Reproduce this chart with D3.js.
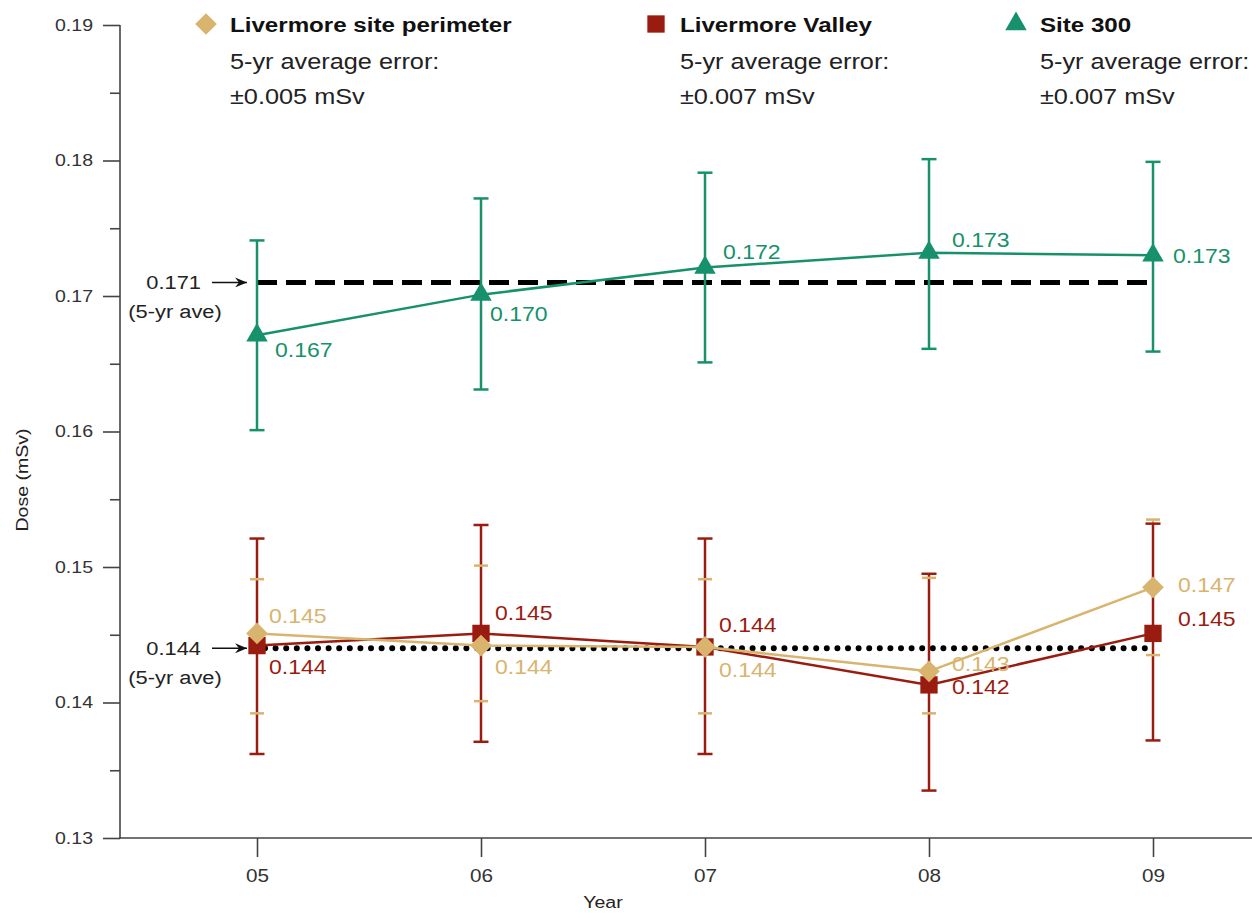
<!DOCTYPE html>
<html>
<head>
<meta charset="utf-8">
<script src="https://cdn.jsdelivr.net/npm/d3@7"></script>
<style>
  body { margin: 0; background: #fff; }
  text { font-family: "Liberation Sans", Arial, sans-serif; }
</style>
</head>
<body>
<div id="chart"></div>
<script>
// data
var years = ["05", "06", "07", "08", "09"];

var perimeterDose = [0.1451, 0.1442, 0.1441, 0.1423, 0.1485];
var perimeterLow  = [0.1392, 0.1401, 0.1392, 0.1392, 0.1435];
var perimeterHigh = [0.1491, 0.1501, 0.1491, 0.1492, 0.1535];
var perimeterLabels = ["0.145", "0.144", "0.144", "0.143", "0.147"];

var valleyDose = [0.1442, 0.1451, 0.1441, 0.1413, 0.1451];
var valleyLow  = [0.1362, 0.1371, 0.1362, 0.1335, 0.1372];
var valleyHigh = [0.1521, 0.1531, 0.1521, 0.1495, 0.1532];
var valleyLabels = ["0.144", "0.145", "0.144", "0.142", "0.145"];

var site300Dose = [0.1671, 0.1701, 0.1721, 0.1732, 0.1730];
var site300Low  = [0.1601, 0.1631, 0.1651, 0.1661, 0.1659];
var site300High = [0.1741, 0.1772, 0.1791, 0.1801, 0.1799];
var site300Labels = ["0.167", "0.170", "0.172", "0.173", "0.173"];

var site300Ave = 0.171;
var livermoreAve = 0.144;

var legendNames = ["Livermore site perimeter", "Livermore Valley", "Site 300"];
var legendErrors = ["\u00b10.005 mSv", "\u00b10.007 mSv", "\u00b10.007 mSv"];

var majorTicks = [0.13, 0.14, 0.15, 0.16, 0.17, 0.18, 0.19];
var minorTicks = [0.135, 0.145, 0.155, 0.165, 0.175, 0.185];

// layout
var W = 1252, H = 913;
var SX = 1.15; // the original art is stretched a bit horizontally
var tan = "#d8b46e", red = "#9a1c10", green = "#16916b";

var svg = d3.select("#chart").append("svg")
    .attr("width", W)
    .attr("height", H);

var x = d3.scalePoint()
    .domain(years)
    .range([257, 1153]);
var y = d3.scaleLinear()
    .domain([0.13, 0.19])
    .range([838, 25]);

function stext(g, px, py, str, size, fill, anchor, weight) {
    return g.append("text")
        .attr("transform", "translate(" + px + "," + py + ") scale(" + SX + ",1)")
        .attr("dy", "0.35em")
        .attr("text-anchor", anchor || "start")
        .style("font-size", size + "px")
        .style("font-weight", weight || "normal")
        .attr("fill", fill)
        .text(str);
}

// y axis
var yAxis = svg.append("g")
    .attr("transform", "translate(120,0)")
    .call(d3.axisLeft(y).tickValues(majorTicks).tickSize(17).tickPadding(9).tickFormat(d3.format(".2f")));
yAxis.select(".domain").remove();
yAxis.selectAll("line").attr("stroke", "#444").attr("stroke-width", 1.6);
yAxis.selectAll("text")
    .attr("x", 0)
    .attr("transform", "translate(-27,0) scale(" + SX + ",1)")
    .attr("fill", "#333")
    .style("font-size", "17px")
    .style("font-family", "Liberation Sans, Arial, sans-serif");

var yMinor = svg.append("g")
    .attr("transform", "translate(120,0)")
    .call(d3.axisLeft(y).tickValues(minorTicks).tickSize(10).tickFormat(""));
yMinor.select(".domain").remove();
yMinor.selectAll("line").attr("stroke", "#444").attr("stroke-width", 1.6);

svg.append("line")
    .attr("x1", 120).attr("x2", 120)
    .attr("y1", y(0.19)).attr("y2", y(0.13) + 0.8)
    .attr("stroke", "#444").attr("stroke-width", 1.6);

// x axis
var xAxis = svg.append("g")
    .attr("transform", "translate(0," + y(0.13) + ")")
    .call(d3.axisBottom(x).tickSize(19).tickPadding(9));
xAxis.select(".domain").remove();
xAxis.selectAll("line").attr("stroke", "#444").attr("stroke-width", 1.6);
xAxis.selectAll("text")
    .attr("y", 0)
    .attr("dy", "0.35em")
    .attr("transform", "translate(0,38) scale(" + SX + ",1)")
    .attr("fill", "#333")
    .style("font-size", "18px")
    .style("font-family", "Liberation Sans, Arial, sans-serif");

svg.append("line")
    .attr("x1", 119).attr("x2", W)
    .attr("y1", y(0.13)).attr("y2", y(0.13))
    .attr("stroke", "#444").attr("stroke-width", 1.6);

stext(svg, 603, 902, "Year", 17, "#222", "middle");
svg.append("text")
    .attr("transform", "translate(22,480) rotate(-90) scale(" + SX + ",1)")
    .attr("dy", "0.35em")
    .attr("text-anchor", "middle")
    .style("font-size", "17px")
    .attr("fill", "#222")
    .text("Dose (mSv)");

// 5-yr average reference lines
svg.append("defs").append("marker")
    .attr("id", "arrow")
    .attr("viewBox", "0 0 12 10")
    .attr("refX", 12).attr("refY", 5)
    .attr("markerWidth", 12).attr("markerHeight", 10)
    .attr("markerUnits", "userSpaceOnUse")
    .attr("orient", "auto")
    .append("path")
    .attr("d", "M0,0 L12,5 L0,10 L4,5 Z")
    .attr("fill", "#111");

svg.append("line")
    .attr("x1", x("05")).attr("x2", x("09"))
    .attr("y1", y(site300Ave)).attr("y2", y(site300Ave))
    .attr("stroke", "#000").attr("stroke-width", 5)
    .attr("stroke-dasharray", "20,9");

svg.append("line")
    .attr("x1", x("05") + 8).attr("x2", x("09"))
    .attr("y1", y(livermoreAve)).attr("y2", y(livermoreAve))
    .attr("stroke", "#000").attr("stroke-width", 6)
    .attr("stroke-linecap", "round")
    .attr("stroke-dasharray", "0,10.6");

[site300Ave, livermoreAve].forEach(function(v) {
    svg.append("line")
        .attr("x1", 212).attr("x2", x("05") - 10)
        .attr("y1", y(v)).attr("y2", y(v))
        .attr("stroke", "#111").attr("stroke-width", 1.5)
        .attr("marker-end", "url(#arrow)");
    stext(svg, 201, y(v), d3.format(".3f")(v), 19, "#222", "end");
    stext(svg, 175, y(v) + 29, "(5-yr ave)", 19, "#222", "middle");
});

// series
var diamond = d3.symbol().type(d3.symbolDiamond2).size(300);
var square = d3.symbol().type(d3.symbolSquare).size(300);
var triangle = d3.symbol().type(d3.symbolTriangle).size(200);

var line = d3.line()
    .x(function(d) { return x(d.year); })
    .y(function(d) { return y(d.dose); });

function drawSeries(dose, low, high, labels, color, sym, capW, errW, offsets) {
    var data = years.map(function(yr, i) {
        return {year: yr, dose: dose[i], low: low[i], high: high[i], label: labels[i], off: offsets[i]};
    });
    return {
        stems: function() {
            svg.append("g").selectAll("line").data(data).enter().append("line")
                .attr("x1", function(d) { return x(d.year); })
                .attr("x2", function(d) { return x(d.year); })
                .attr("y1", function(d) { return y(d.low); })
                .attr("y2", function(d) { return y(d.high); })
                .attr("stroke", color).attr("stroke-width", errW);
        },
        caps: function() {
            var e = svg.append("g");
            ["low", "high"].forEach(function(k) {
                e.selectAll(".cap" + k).data(data).enter().append("line")
                    .attr("class", "cap" + k)
                    .attr("x1", function(d) { return x(d.year) - capW / 2; })
                    .attr("x2", function(d) { return x(d.year) + capW / 2; })
                    .attr("y1", function(d) { return y(d[k]); })
                    .attr("y2", function(d) { return y(d[k]); })
                    .attr("stroke", color).attr("stroke-width", 2.5);
            });
        },
        marks: function() {
            var m = svg.append("g");
            m.append("path")
                .datum(data)
                .attr("fill", "none")
                .attr("stroke", color)
                .attr("stroke-width", 2.5)
                .attr("d", line);
            m.selectAll(".pt").data(data).enter().append("path")
                .attr("class", "pt")
                .attr("transform", function(d) { return "translate(" + x(d.year) + "," + y(d.dose) + ")"; })
                .attr("d", sym)
                .attr("fill", color);
        },
        labels: function() {
            var t = svg.append("g");
            data.forEach(function(d) {
                stext(t, x(d.year) + d.off[0], y(d.dose) + d.off[1], d.label, 20, color, "start");
            });
        }
    };
}

var site300 = drawSeries(site300Dose, site300Low, site300High, site300Labels, green, triangle, 15, 2.5,
    [[18, 15], [9, 19], [18, -16], [23, -13], [20, 1]]);
var valley = drawSeries(valleyDose, valleyLow, valleyHigh, valleyLabels, red, square, 15, 2.5,
    [[12, 21], [14, -20], [14, -22], [23, 2], [25, -14]]);
var perimeter = drawSeries(perimeterDose, perimeterLow, perimeterHigh, perimeterLabels, tan, diamond, 14, 2,
    [[12, -17], [14, 21], [14, 23], [23, -7], [25, -2]]);

site300.stems();
site300.caps();
site300.marks();
site300.labels();
perimeter.stems();
valley.stems();
valley.caps();
perimeter.caps();
valley.marks();
perimeter.marks();
valley.labels();
perimeter.labels();

// legend
var legendX = [230, 680, 1040];
var legendSyms = [diamond, square, triangle];
var legendColors = [tan, red, green];
var legend = svg.append("g");
legendNames.forEach(function(name, i) {
    legend.append("path")
        .attr("transform", "translate(" + (legendX[i] - 24) + "," + 24 + ")")
        .attr("d", legendSyms[i])
        .attr("fill", legendColors[i]);
    stext(legend, legendX[i], 25, name, 21, "#111", "start", "bold");
    stext(legend, legendX[i], 61, "5-yr average error:", 22, "#222", "start");
    stext(legend, legendX[i], 96, legendErrors[i], 22, "#222", "start");
});
</script>
</body>
</html>
